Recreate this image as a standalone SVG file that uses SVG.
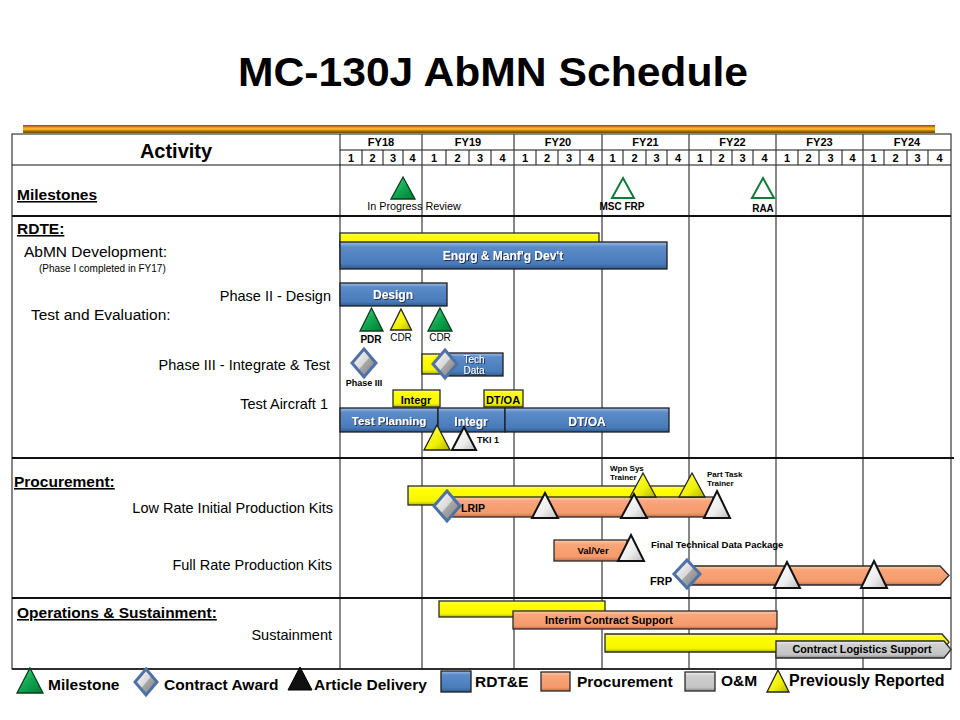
<svg xmlns="http://www.w3.org/2000/svg" width="960" height="720" viewBox="0 0 960 720">
<defs>
  <linearGradient id="gGold" x1="0" y1="0" x2="0" y2="1">
    <stop offset="0" stop-color="#7A4A00"/>
    <stop offset="0.3" stop-color="#E89A10"/>
    <stop offset="0.5" stop-color="#FFC040"/>
    <stop offset="0.7" stop-color="#C27A05"/>
    <stop offset="1" stop-color="#6A4000"/>
  </linearGradient>
  <linearGradient id="gBlue" x1="0" y1="0" x2="0" y2="1">
    <stop offset="0" stop-color="#9DBDE6"/>
    <stop offset="0.18" stop-color="#5B8BC8"/>
    <stop offset="0.8" stop-color="#4A7CBB"/>
    <stop offset="1" stop-color="#2F5A90"/>
  </linearGradient>
  <linearGradient id="gYel" x1="0" y1="0" x2="0" y2="1">
    <stop offset="0" stop-color="#FFFF80"/>
    <stop offset="0.2" stop-color="#FFFF00"/>
    <stop offset="0.8" stop-color="#F5F500"/>
    <stop offset="1" stop-color="#B5B500"/>
  </linearGradient>
  <linearGradient id="gSal" x1="0" y1="0" x2="0" y2="1">
    <stop offset="0" stop-color="#FFD0B0"/>
    <stop offset="0.2" stop-color="#F9A57A"/>
    <stop offset="0.8" stop-color="#F59A6C"/>
    <stop offset="1" stop-color="#C8704A"/>
  </linearGradient>
  <linearGradient id="gGray" x1="0" y1="0" x2="0" y2="1">
    <stop offset="0" stop-color="#F2F2F2"/>
    <stop offset="0.2" stop-color="#CFCFCF"/>
    <stop offset="0.8" stop-color="#C4C4C4"/>
    <stop offset="1" stop-color="#8E8E8E"/>
  </linearGradient>
  <linearGradient id="gGreen" x1="0" y1="0" x2="1" y2="1">
    <stop offset="0" stop-color="#5AD88A"/>
    <stop offset="0.5" stop-color="#10A850"/>
    <stop offset="1" stop-color="#007A35"/>
  </linearGradient>
  <linearGradient id="gWhite" x1="0" y1="0" x2="1" y2="1">
    <stop offset="0" stop-color="#FFFFFF"/>
    <stop offset="0.6" stop-color="#EDEDED"/>
    <stop offset="1" stop-color="#BDBDBD"/>
  </linearGradient>
  <linearGradient id="gDia" x1="0" y1="0" x2="1" y2="1">
    <stop offset="0" stop-color="#FFFFFF"/>
    <stop offset="0.5" stop-color="#D8D8D8"/>
    <stop offset="0.52" stop-color="#A8A8A8"/>
    <stop offset="1" stop-color="#7A7A7A"/>
  </linearGradient>
  <linearGradient id="gYTri" x1="0" y1="0" x2="1" y2="1">
    <stop offset="0" stop-color="#FFFF70"/>
    <stop offset="0.6" stop-color="#F0F000"/>
    <stop offset="1" stop-color="#B0B000"/>
  </linearGradient>
  <filter id="sh" x="-10%" y="-30%" width="120%" height="160%">
    <feDropShadow dx="1" dy="1" stdDeviation="0.4" flood-color="#1a2a40" flood-opacity="0.9"/>
  </filter>
</defs>
<style>
  text { font-family: "Liberation Sans", Arial, Helvetica, sans-serif; fill: #000; }
  .b { font-weight: bold; }
  .title { font-size: 41px; font-weight: bold; }
  .hdr { font-size: 11px; font-weight: bold; text-anchor: middle; }
  .sec { font-size: 15.5px; font-weight: bold; text-decoration: underline; }
  .sub { font-size: 15.5px; }
  .row { font-size: 14.5px; text-anchor: end; }
  .small { font-size: 10px; }
  .ms { font-size: 10px; font-weight: bold; text-anchor: middle; }
  .bl { font-size: 12px; font-weight: bold; fill: #fff; text-anchor: middle; filter: url(#sh); }
  .yl { font-size: 11px; font-weight: bold; text-anchor: middle; }
  .pl { font-size: 10px; font-weight: bold; text-anchor: middle; }
  .tiny { font-size: 8px; font-weight: bold; }
  .leg { font-size: 15.5px; font-weight: bold; }
  .blue { fill: url(#gBlue); stroke: #1E1E1E; stroke-width: 1.3; }
  .yel { fill: url(#gYel); stroke: #2A2A2A; stroke-width: 1.3; }
  .sal { fill: url(#gSal); stroke: #2A2A2A; stroke-width: 1.3; }
  .gry { fill: url(#gGray); stroke: #2A2A2A; stroke-width: 1.3; }
  .grn { fill: url(#gGreen); stroke: #0B3D1E; stroke-width: 1.3; }
  .hol { fill: none; stroke: #107A3A; stroke-width: 2; }
  .wtri { fill: url(#gWhite); stroke: #111; stroke-width: 2; }
  .ytri { fill: url(#gYTri); stroke: #222; stroke-width: 1.3; }
  .dia { fill: url(#gDia); stroke: #4F72A6; stroke-width: 3; }
  .grid { stroke: #3A3A3A; stroke-width: 1.2; fill: none; }
  .thick { stroke: #111; stroke-width: 2; fill: none; }
  .thin { stroke: #111; stroke-width: 1; fill: none; }
</style>

<rect x="0" y="0" width="960" height="720" fill="#fff"/>

<!-- Title -->
<g id="title">
  <text class="title" x="493" y="86" text-anchor="middle" textLength="510" lengthAdjust="spacingAndGlyphs">MC-130J AbMN Schedule</text>
  <rect x="23" y="125" width="912" height="8" fill="url(#gGold)"/>
</g>

<!-- Table grid -->
<g id="table">
  <rect x="12" y="134" width="939" height="535" class="thin"/>
  <line x1="340" y1="134" x2="340" y2="669" class="thin"/>
  <line x1="340" y1="150" x2="951" y2="150" class="thin"/>
  <line x1="12" y1="165" x2="951" y2="165" class="thin"/>
  <g class="grid">
    <line x1="422" y1="134" x2="422" y2="669"/>
    <line x1="514" y1="134" x2="514" y2="669"/>
    <line x1="602" y1="134" x2="602" y2="669"/>
    <line x1="689" y1="134" x2="689" y2="669"/>
    <line x1="776" y1="134" x2="776" y2="669"/>
    <line x1="863" y1="134" x2="863" y2="669"/>
  </g>
  <g class="thin">
    <line x1="362" y1="150" x2="362" y2="165"/><line x1="383" y1="150" x2="383" y2="165"/><line x1="403" y1="150" x2="403" y2="165"/>
    <line x1="446" y1="150" x2="446" y2="165"/><line x1="469" y1="150" x2="469" y2="165"/><line x1="491" y1="150" x2="491" y2="165"/>
    <line x1="536" y1="150" x2="536" y2="165"/><line x1="558" y1="150" x2="558" y2="165"/><line x1="580" y1="150" x2="580" y2="165"/>
    <line x1="623" y1="150" x2="623" y2="165"/><line x1="646" y1="150" x2="646" y2="165"/><line x1="667" y1="150" x2="667" y2="165"/>
    <line x1="711" y1="150" x2="711" y2="165"/><line x1="732" y1="150" x2="732" y2="165"/><line x1="753" y1="150" x2="753" y2="165"/>
    <line x1="798" y1="150" x2="798" y2="165"/><line x1="819" y1="150" x2="819" y2="165"/><line x1="842" y1="150" x2="842" y2="165"/>
    <line x1="884" y1="150" x2="884" y2="165"/><line x1="907" y1="150" x2="907" y2="165"/><line x1="928" y1="150" x2="928" y2="165"/>
  </g>
  <g class="thick">
    <line x1="12" y1="216" x2="951" y2="216"/>
    <line x1="12" y1="458" x2="954" y2="458"/>
    <line x1="12" y1="598" x2="951" y2="598"/>
  </g>
  <line x1="12" y1="669" x2="951" y2="669" stroke="#111" stroke-width="1.5"/>
  <text x="176" y="158" class="b" style="font-size:20px" text-anchor="middle">Activity</text>
  <g>
    <text class="hdr" x="381" y="146">FY18</text>
    <text class="hdr" x="468" y="146">FY19</text>
    <text class="hdr" x="558" y="146">FY20</text>
    <text class="hdr" x="645.5" y="146">FY21</text>
    <text class="hdr" x="732.5" y="146">FY22</text>
    <text class="hdr" x="819.5" y="146">FY23</text>
    <text class="hdr" x="907" y="146">FY24</text>
  </g>
  <g>
    <text class="hdr" x="351" y="162">1</text><text class="hdr" x="372.5" y="162">2</text><text class="hdr" x="393" y="162">3</text><text class="hdr" x="412.5" y="162">4</text>
    <text class="hdr" x="434" y="162">1</text><text class="hdr" x="457.5" y="162">2</text><text class="hdr" x="480" y="162">3</text><text class="hdr" x="502.5" y="162">4</text>
    <text class="hdr" x="525" y="162">1</text><text class="hdr" x="547" y="162">2</text><text class="hdr" x="569" y="162">3</text><text class="hdr" x="591" y="162">4</text>
    <text class="hdr" x="612.5" y="162">1</text><text class="hdr" x="634.5" y="162">2</text><text class="hdr" x="656.5" y="162">3</text><text class="hdr" x="678" y="162">4</text>
    <text class="hdr" x="700" y="162">1</text><text class="hdr" x="721.5" y="162">2</text><text class="hdr" x="742.5" y="162">3</text><text class="hdr" x="764.5" y="162">4</text>
    <text class="hdr" x="787" y="162">1</text><text class="hdr" x="808.5" y="162">2</text><text class="hdr" x="830.5" y="162">3</text><text class="hdr" x="852.5" y="162">4</text>
    <text class="hdr" x="873.5" y="162">1</text><text class="hdr" x="895.5" y="162">2</text><text class="hdr" x="917.5" y="162">3</text><text class="hdr" x="939.5" y="162">4</text>
  </g>
</g>

<!-- Row labels -->
<g id="labels">
  <text class="sec" x="17" y="200">Milestones</text>
  <text class="sec" x="17" y="234">RDTE:</text>
  <text class="sub" x="24" y="257">AbMN Development:</text>
  <text class="small" x="39" y="272">(Phase I completed in FY17)</text>
  <text class="row" x="331" y="301">Phase II  - Design</text>
  <text class="sub" x="31" y="320">Test and Evaluation:</text>
  <text class="row" x="330" y="370">Phase III  - Integrate &amp; Test</text>
  <text class="row" x="328" y="409">Test Aircraft 1</text>
  <text class="sec" x="14" y="487">Procurement:</text>
  <text class="row" x="333" y="513">Low Rate Initial  Production Kits</text>
  <text class="row" x="332" y="570">Full Rate Production Kits</text>
  <text class="sec" x="17" y="618">Operations &amp; Sustainment:</text>
  <text class="row" x="332" y="640">Sustainment</text>
</g>

<!-- Milestones row -->
<g id="ms-ipr">
  <polygon class="grn" points="403,177 415,199 391,199"/>
  <text class="small" x="414" y="210" text-anchor="middle" style="font-size:10.8px">In Progress Review</text>
</g>
<g id="ms-mscfrp">
  <polygon class="hol" points="623,178 634,198 612,198"/>
  <text class="ms" x="622" y="210">MSC FRP</text>
</g>
<g id="ms-raa">
  <polygon class="hol" points="763,178 774,198 752,198"/>
  <text class="ms" x="763" y="212">RAA</text>
</g>

<!-- RDTE -->
<g id="abmn-dev">
  <rect class="yel" x="340" y="233" width="259" height="14"/>
  <rect class="blue" x="340" y="242" width="327" height="27"/>
  <text class="bl" x="503" y="260">Engrg &amp; Manf'g Dev't</text>
</g>
<g id="design">
  <rect class="blue" x="340" y="283" width="107" height="23"/>
  <text class="bl" x="393" y="299">Design</text>
</g>
<g id="pdr">
  <polygon class="grn" points="371.5,308 383,331 360,331"/>
  <text class="ms" x="371" y="343">PDR</text>
</g>
<g id="cdr1">
  <polygon class="ytri" points="401,309 411.5,330 390.5,330"/>
  <text class="small" x="401" y="341" text-anchor="middle">CDR</text>
</g>
<g id="cdr2">
  <polygon class="grn" points="440,308 452,331 428,331"/>
  <text class="small" x="440" y="341" text-anchor="middle">CDR</text>
</g>
<g id="phase3-award">
  <polygon class="dia" points="364,349 376,363 364,377 352,363"/>
  <text class="ms" x="364" y="386" style="font-size:9px">Phase III</text>
</g>
<g id="tech-data">
  <rect class="yel" x="422" y="354" width="30" height="20"/>
  <rect class="blue" x="443" y="353" width="60" height="23"/>
  <text class="bl" x="474" y="363" style="font-size:10px;font-weight:normal">Tech</text>
  <text class="bl" x="474" y="374" style="font-size:10px;font-weight:normal">Data</text>
  <polygon class="dia" points="445,350 457,364 445,378 433,364"/>
</g>
<g id="test-aircraft">
  <rect class="yel" x="393" y="390" width="47" height="17"/>
  <text class="yl" x="416" y="404">Integr</text>
  <rect class="yel" x="484" y="390" width="39" height="17"/>
  <text class="yl" x="503" y="404">DT/OA</text>
  <rect class="blue" x="340" y="408" width="98" height="24"/>
  <text class="bl" x="389" y="425" style="font-size:11.5px">Test Planning</text>
  <rect class="blue" x="438" y="408" width="67" height="24"/>
  <text class="bl" x="471" y="426">Integr</text>
  <rect class="blue" x="505" y="408" width="164" height="24"/>
  <text class="bl" x="587" y="426">DT/OA</text>
</g>
<g id="tki">
  <polygon class="ytri" points="437,425 450,450 424,450"/>
  <polygon class="wtri" points="464,427 476,450 452,450"/>
  <text class="b" x="477" y="443" style="font-size:9px">TKI 1</text>
</g>

<!-- Procurement -->
<g id="lrip">
  <rect class="yel" x="408" y="486" width="280" height="19"/>
  <rect class="sal" x="447" y="497" width="266" height="20"/>
  <polygon class="dia" points="447,491 460,506 447,521 434,506"/>
  <text class="pl" x="461" y="512" style="text-anchor:start;font-size:10.5px">LRIP</text>
  <polygon class="ytri" points="643,473 656,497 630,497"/>
  <polygon class="ytri" points="692,473 705,497 679,497"/>
  <polygon class="wtri" points="545,493 558,518 532,518"/>
  <polygon class="wtri" points="634,494 647,518 621,518"/>
  <polygon class="wtri" points="717,491 730,518 704,518"/>
  <text class="tiny" x="610" y="471">Wpn Sys</text>
  <text class="tiny" x="610" y="480">Trainer</text>
  <text class="tiny" x="707" y="477">Part Task</text>
  <text class="tiny" x="707" y="486">Trainer</text>
</g>
<g id="valver">
  <rect class="sal" x="554" y="540" width="73" height="21"/>
  <text class="pl" x="593" y="554" style="font-size:9.5px">Val/Ver</text>
  <polygon class="wtri" points="631,535 644,561 618,561"/>
  <text class="pl" x="651" y="548" style="text-anchor:start;font-size:9.5px">Final Technical Data Package</text>
</g>
<g id="frp">
  <path class="sal" d="M689,566 H940 L949,575.5 L940,585 H689 Z"/>
  <polygon class="wtri" points="787,562 800,588 774,588"/>
  <polygon class="wtri" points="874,561 887,588 861,588"/>
  <polygon class="dia" points="687,560 700,574 687,588 674,574"/>
  <text class="pl" x="672" y="585" style="text-anchor:end;font-size:11px">FRP</text>
</g>

<!-- O&S -->
<g id="sustainment">
  <rect class="yel" x="439" y="601" width="166" height="16"/>
  <rect class="sal" x="513" y="611" width="264" height="18"/>
  <text class="pl" x="609" y="624" style="font-size:10.8px">Interim Contract Support</text>
  <path class="yel" d="M605,634 H942 L949,642 L942,652 H605 Z"/>
  <path class="gry" d="M776,641 H944 L951,649.5 L944,658 H776 Z"/>
  <text class="pl" x="862" y="653" style="font-size:10.8px">Contract Logistics Support</text>
</g>

<g id="connectors"></g>

<!-- Legend -->
<g id="legend">
  <polygon class="grn" points="30,668 43,693 17,693"/>
  <text class="leg" x="48" y="690">Milestone</text>
  <polygon class="dia" points="146,669 157,682 146,695 135,682"/>
  <text class="leg" x="164" y="690">Contract Award</text>
  <polygon points="300,667 312,690 288,690" fill="#111" stroke="#000" stroke-width="1"/>
  <text class="leg" x="314" y="690">Article Delivery</text>
  <rect class="blue" x="441" y="671" width="30" height="21"/>
  <text class="leg" x="475" y="687">RDT&amp;E</text>
  <rect class="sal" x="541" y="672" width="29" height="19"/>
  <text class="leg" x="577" y="687">Procurement</text>
  <rect class="gry" x="685" y="672" width="30" height="19"/>
  <text class="leg" x="721" y="686">O&amp;M</text>
  <polygon class="ytri" points="778,670 789,692 767,692"/>
  <text class="leg" x="789" y="686" style="font-size:16px">Previously Reported</text>
</g>
</svg>
